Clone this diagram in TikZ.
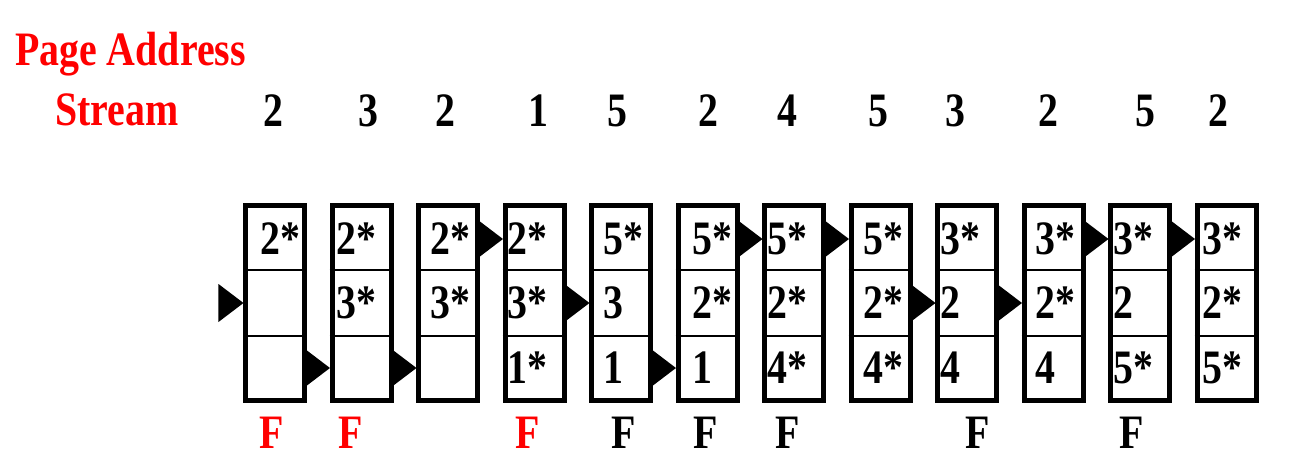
\documentclass[tikz,border=0pt]{standalone}
\usepackage{fontspec}
\usepackage{xcolor}
\usepackage{tikz}
\usetikzlibrary{shapes.geometric, arrows}
\newfontfamily\diagfont{Liberation Serif}[FakeStretch=0.83]
\newcommand{\bigtext}{\diagfont\bfseries\fontsize{48}{52}\selectfont}
\tikzstyle{frame} = [rectangle, draw=black, line width=5pt, minimum width=59pt, minimum height=195pt, inner sep=0pt]
\tikzstyle{divider} = [line width=2.2pt]
\tikzstyle{entry} = [anchor=west, inner sep=0pt, font=\bigtext]
\tikzstyle{pointer} = [isosceles triangle, isosceles triangle stretches, fill=black, inner sep=0pt, minimum width=38pt, minimum height=25pt, anchor=apex]
\tikzstyle{refnum} = [anchor=base, inner sep=0pt, font=\bigtext]
\tikzstyle{fault} = [anchor=base, inner sep=0pt, font=\bigtext]
\tikzstyle{heading} = [anchor=base west, inner sep=0pt, font=\bigtext, text=red]

\begin{document}
\begin{tikzpicture}[x=1pt, y=-1pt]
\useasboundingbox (0,0) rectangle (1304,476);
\node (page) [heading] at (15,66) {Page Address};
\node (stream) [heading] at (55,126) {Stream};

% frame / text offset / top / middle / bottom / pointer row / page / page x
\foreach \i/\off/\ta/\tb/\tc/\p/\pg/\sx in {1/17/2*///2/2/273, 2/7/2*/3*//3/3/368, 3/14/2*/3*//3/2/445,
    4/5/2*/3*/1*/1/1/538, 5/14/5*/3/1/2/5/617, 6/17/5*/2*/1/3/2/708, 7/5/5*/2*/4*/1/4/787,
    8/15/5*/2*/4*/1/5/878, 9/5/3*/2/4/2/3/955, 10/14/3*/2*/4/2/2/1048, 11/5/3*/2/5*/1/5/1145,
    12/8/3*/2*/5*/1/2/1218}
{
  \pgfmathsetmacro{\L}{243+(\i-1)*86.5}
  \pgfmathsetmacro{\py}{{239,303,368}[\p-1]}
  \node (f\i) [frame] at (\L+32,303) {};
  \draw [divider] (f\i.west |- 0,270) -- (f\i.east |- 0,270);
  \draw [divider] (f\i.west |- 0,336) -- (f\i.east |- 0,336);
  \node (a\i) [entry] at (\L+\off,239) {\ta};
  \node (b\i) [entry] at (\L+\off,303) {\tb};
  \node (c\i) [entry] at (\L+\off,368) {\tc};
  \node (p\i) [pointer] at (\L+1,\py) {};
  \node (s\i) [refnum] at (\sx,127) {\pg};
}

% page faults
\foreach \i/\fx/\col in {1/272/red, 2/351/red, 4/528/red, 5/624/black, 6/706/black, 7/788/black, 9/978/black, 11/1132/black}
  \node (F\i) [fault, text=\col] at (\fx,448) {F};
\end{tikzpicture}
\end{document}
